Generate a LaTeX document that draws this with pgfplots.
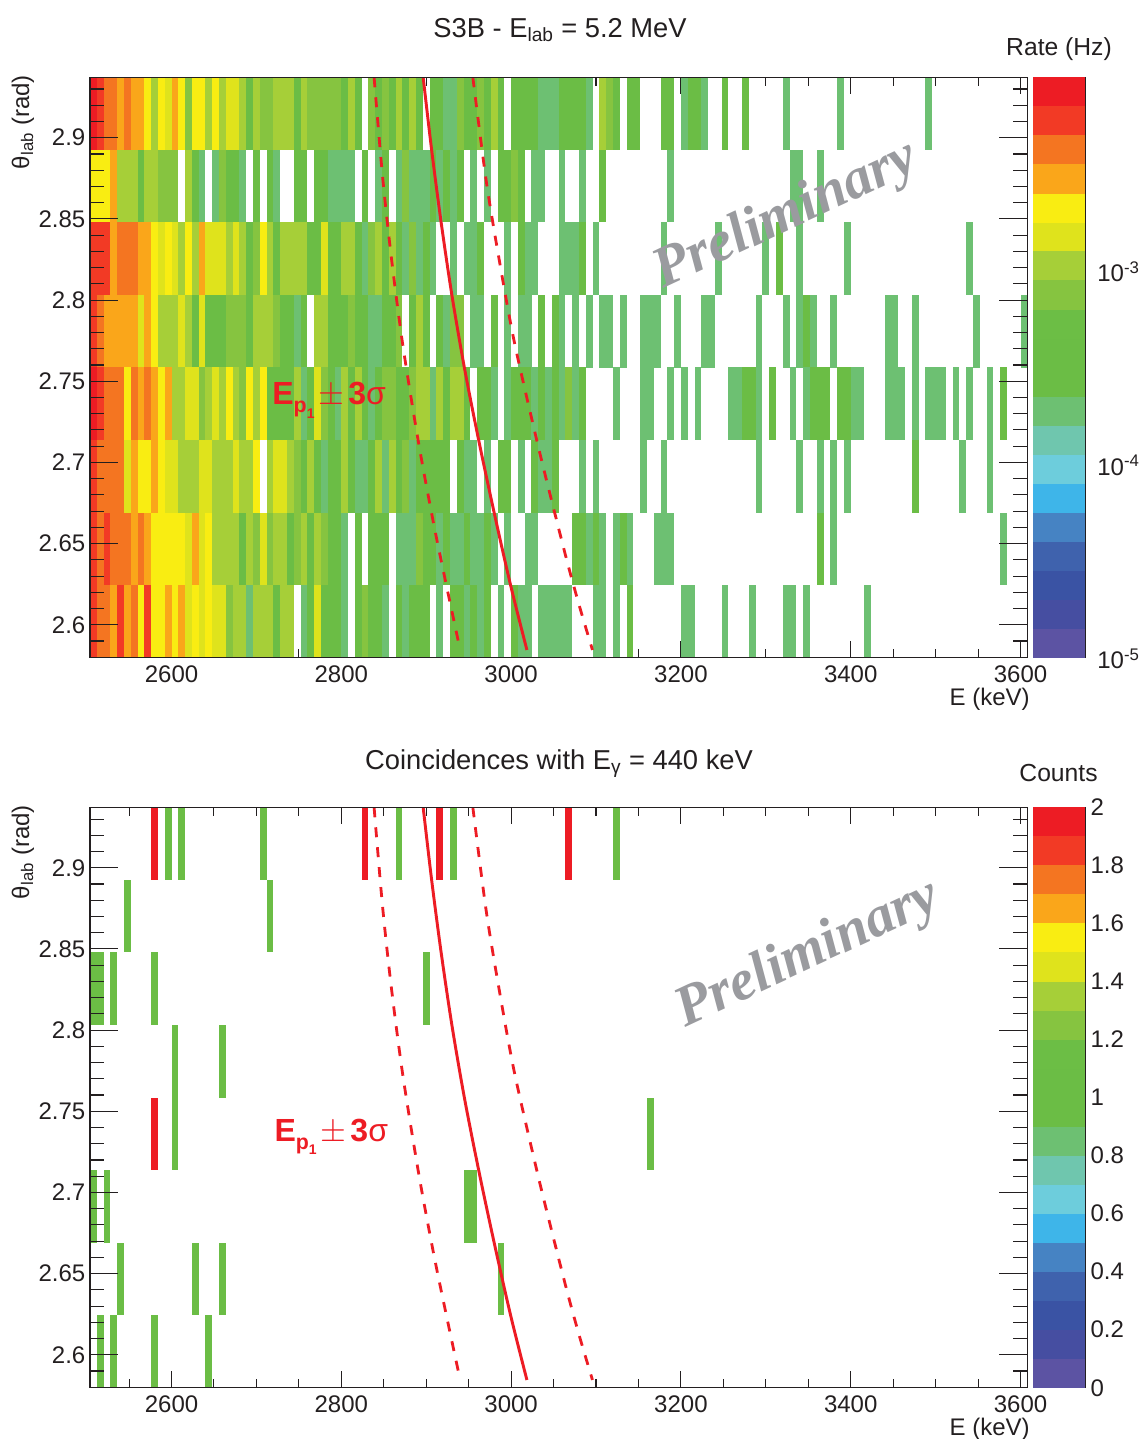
\documentclass[border=0pt]{standalone}
\usepackage{fontspec}
\setmainfont{Liberation Sans}
\newfontfamily\serifbi{Liberation Serif}[BoldItalicFont=* Bold Italic]
\usepackage{pgfplots}
\pgfplotsset{compat=1.18}
\definecolor{rootred}{HTML}{ED1C24}
\definecolor{inkk}{HTML}{231F20}
\definecolor{prelim}{HTML}{9A9B9F}
\pgfdeclareplotmark{cellT}{\pgfpathrectangle{\pgfpoint{-2.55pt}{-27.25pt}}{\pgfpoint{5.1pt}{54.5pt}}\pgfusepathqfill}
\pgfdeclareplotmark{cellB}{\pgfpathrectangle{\pgfpoint{-19.6pt}{-10.92pt}}{\pgfpoint{39.2pt}{21.84pt}}\pgfusepathqfill}
\pgfplotsset{
 colormap={rootpal}{rgb255=(92,83,163) rgb255=(70,78,161) rgb255=(58,83,164) rgb255=(63,98,173) rgb255=(70,131,195)
  rgb255=(62,181,233) rgb255=(109,205,220) rgb255=(111,198,174) rgb255=(109,192,114) rgb255=(107,189,69)
  rgb255=(107,189,69) rgb255=(108,190,69) rgb255=(134,196,64) rgb255=(166,207,56) rgb255=(223,227,28)
  rgb255=(249,237,18) rgb255=(250,166,26) rgb255=(244,117,33) rgb255=(242,58,37) rgb255=(237,28,36)},
 colormap name=rootpal,
 rootaxis/.style={scale only axis,width=703pt,height=435.3pt,xmin=2504,xmax=3608,ymin=2.5797,ymax=2.9372,
  tick align=inside,axis on top,axis line style={inkk,line width=1pt},
  tick style={inkk,line width=0.8pt},
  ticklabel style={font=\fontsize{18}{20}\selectfont,text=inkk}},
 xpart/.style={xtick={2600,2800,3000,3200,3400,3600},xticklabels={2600,2800,3000,3200,3400,3600},
  minor xtick={2550,2650,2700,2750,2850,2900,2950,3050,3100,3150,3250,3300,3350,3450,3500,3550},
  major tick length=12.75pt,minor tick length=6.2pt,ytick=\empty,
  xticklabel style={yshift=-2.8pt}},
 ypart/.style={ytick={2.6,2.65,2.7,2.75,2.8,2.85,2.9},yticklabels={2.6,2.65,2.7,2.75,2.8,2.85,2.9},
  minor ytick={2.58,2.59,2.61,2.62,2.63,2.64,2.66,2.67,2.68,2.69,2.71,2.72,2.73,2.74,2.76,2.77,2.78,2.79,2.81,2.82,2.83,2.84,2.86,2.87,2.88,2.89,2.91,2.92,2.93},
  major tick length=21pt,minor tick length=10.5pt,xtick=\empty},
 heat/.style={scatter,only marks,mark=cellT,scatter src=explicit},
 cbar/.style={scale only axis,width=39.2pt,height=435.3pt,xmin=0,xmax=1,
  axis x line=none,axis y line*=right,axis line style={inkk,line width=0.8pt,-},
  tick align=inside,tick style={inkk,line width=0.8pt},axis on top,
  major tick length=21pt,minor tick length=10.5pt,
  ticklabel style={font=\fontsize{18}{20}\selectfont,text=inkk}},
 cb/.style={scatter,only marks,mark=cellB,scatter src=explicit},
 solidc/.style={rootred,line width=2.2pt,smooth,no markers},
 dashc/.style={rootred,line width=2.1pt,smooth,no markers,dash pattern=on 7.5pt off 7.5pt},
}
\newcommand{\curves}{%
 \addplot[solidc] coordinates {(2896.4,2.9372)(2906.4,2.8924)(2917.6,2.8477)(2930.2,2.8032)(2945,2.7582)(2962,2.7132)(2980,2.6691)(2999.5,2.6241)(3018.6,2.5845)};
 \addplot[dashc] coordinates {(2838.6,2.9372)(2848.6,2.8760)(2859,2.8259)(2872.4,2.7724)(2891,2.7120)(2908.8,2.6621)(2924.4,2.6227)(2940,2.5845)};
 \addplot[dashc] coordinates {(2954.9,2.9372)(2970.5,2.8740)(2986,2.8247)(3004,2.7736)(3031.5,2.7108)(3049,2.6738)(3066,2.6389)(3080,2.6123)(3095.8,2.5845)};
}
\newcommand{\eplabel}{{\color{rootred}\fontsize{24}{26}\selectfont\textbf{E}\raisebox{-6pt}{\fontsize{16}{16}\selectfont\textbf{p}\raisebox{-4pt}{\fontsize{10.5}{11}\selectfont\textbf{1}}}\hspace{3pt}$\pm$\hspace{3pt}\textbf{3}σ}}
\newcommand{\prelimtext}{\serifbi\bfseries\itshape\fontsize{43}{45}\selectfont Preliminary}
\begin{document}
\begin{tikzpicture}
\path[use as bounding box] (0,0) rectangle (857.25pt,-1079.25pt);
% ---------- top panel
\begin{axis}[rootaxis,xpart,at={(67.5pt,-493.3pt)},anchor=south west,point meta min=0,point meta max=19]
\addplot[heat] table[row sep=\\,header=false,x expr=2508+8*\thisrowno{0},y expr=2.9149,meta index=1] {
0 19\\1 18\\2 17\\3 17\\4 16\\5 17\\6 16\\7 16\\8 15\\9 13\\10 15\\11 14\\12 16\\13 15\\14 12\\15 15\\16 15\\17 13\\18 15\\19 13\\20 14\\21 14\\22 13\\23 10\\24 13\\25 12\\26 12\\27 13\\28 13\\29 13\\30 10\\31 13\\32 12\\33 12\\34 12\\35 12\\36 12\\37 10\\38 13\\39 10\\41 12\\42 10\\43 12\\44 10\\45 13\\46 10\\47 13\\48 10\\50 10\\51 10\\52 8\\53 8\\54 12\\55 10\\56 10\\57 12\\58 10\\59 13\\60 10\\62 10\\63 10\\64 10\\65 10\\66 8\\67 8\\68 8\\69 10\\70 10\\71 10\\72 10\\73 8\\75 13\\76 12\\77 10\\79 10\\80 10\\84 10\\85 10\\87 8\\88 10\\89 10\\90 8\\93 10\\96 10\\102 8\\110 8\\123 8\\
};
\addplot[heat] table[row sep=\\,header=false,x expr=2508+8*\thisrowno{0},y expr=2.8702,meta index=1] {
0 15\\1 15\\2 15\\3 16\\4 13\\5 13\\6 13\\7 10\\8 13\\9 13\\10 12\\11 12\\12 12\\14 13\\15 10\\16 8\\18 8\\19 12\\20 10\\21 10\\22 8\\24 10\\26 10\\27 8\\30 10\\31 10\\33 10\\34 10\\35 8\\36 8\\37 8\\38 8\\40 10\\42 8\\43 10\\45 8\\46 12\\47 8\\48 8\\49 8\\50 10\\51 8\\52 10\\53 8\\54 10\\56 8\\58 8\\60 10\\61 10\\62 12\\63 10\\65 8\\66 8\\69 8\\72 8\\75 10\\85 8\\103 8\\104 8\\107 8\\
};
\addplot[heat] table[row sep=\\,header=false,x expr=2508+8*\thisrowno{0},y expr=2.8255,meta index=1] {
0 18\\1 18\\2 18\\3 16\\4 17\\5 17\\6 17\\7 16\\8 16\\9 15\\10 14\\11 15\\12 14\\13 13\\14 15\\15 13\\16 16\\17 14\\18 14\\19 14\\20 13\\21 14\\22 13\\23 10\\24 12\\25 15\\26 13\\27 10\\28 13\\29 13\\30 13\\31 13\\32 10\\33 10\\34 14\\35 10\\36 10\\37 13\\38 13\\39 10\\40 8\\41 12\\42 13\\43 10\\44 13\\45 10\\46 8\\47 12\\48 8\\49 10\\50 8\\53 8\\55 8\\56 8\\57 10\\61 8\\63 10\\64 8\\65 8\\69 8\\70 8\\71 8\\72 10\\74 8\\84 8\\92 8\\99 8\\101 10\\104 8\\111 8\\129 8\\
};
\addplot[heat] table[row sep=\\,header=false,x expr=2508+8*\thisrowno{0},y expr=2.7808,meta index=1] {
0 18\\1 17\\2 16\\3 16\\4 16\\5 16\\6 16\\7 14\\8 16\\9 15\\10 13\\11 13\\12 13\\13 14\\14 13\\15 10\\16 14\\17 10\\18 10\\19 10\\20 12\\21 12\\22 12\\23 10\\24 13\\25 13\\26 13\\27 12\\28 10\\29 10\\30 8\\31 10\\33 13\\34 13\\35 10\\36 10\\37 10\\38 12\\39 10\\40 10\\41 8\\42 8\\43 10\\44 10\\45 12\\47 10\\48 13\\49 10\\51 10\\52 8\\53 12\\54 12\\56 8\\57 8\\59 10\\61 8\\63 8\\64 8\\66 10\\68 10\\69 8\\71 8\\73 8\\75 8\\76 8\\78 8\\81 8\\82 8\\83 8\\86 8\\90 8\\91 8\\98 8\\102 8\\104 8\\105 10\\106 8\\109 8\\117 8\\118 8\\121 8\\130 8\\137 8\\
};
\addplot[heat] table[row sep=\\,header=false,x expr=2508+8*\thisrowno{0},y expr=2.7361,meta index=1] {
0 19\\1 18\\2 17\\3 17\\4 17\\5 15\\6 17\\7 16\\8 17\\9 16\\10 15\\11 16\\12 13\\13 13\\14 14\\15 14\\16 12\\17 13\\18 14\\19 13\\20 15\\21 13\\22 12\\23 15\\24 13\\25 15\\26 10\\27 10\\28 10\\29 10\\30 13\\31 8\\32 10\\33 14\\34 12\\35 10\\36 8\\37 13\\38 10\\39 13\\40 10\\41 8\\42 10\\43 12\\44 12\\45 10\\46 10\\47 12\\48 13\\49 13\\50 8\\51 13\\52 10\\53 13\\54 13\\55 10\\57 10\\58 10\\59 8\\61 8\\62 10\\63 10\\64 10\\65 8\\66 10\\67 8\\68 10\\69 8\\70 12\\71 8\\72 10\\77 8\\81 8\\82 8\\85 8\\87 8\\89 8\\94 8\\95 8\\96 10\\97 10\\98 8\\100 10\\103 8\\105 8\\106 10\\107 10\\108 10\\110 10\\111 10\\112 8\\113 8\\117 8\\118 8\\119 8\\121 8\\123 8\\124 8\\125 8\\127 8\\129 8\\132 8\\134 10\\
};
\addplot[heat] table[row sep=\\,header=false,x expr=2508+8*\thisrowno{0},y expr=2.6914,meta index=1] {
0 18\\1 17\\2 17\\3 17\\4 17\\5 14\\6 16\\7 15\\8 15\\9 16\\10 15\\11 14\\12 14\\13 13\\14 13\\15 13\\16 14\\17 14\\18 13\\19 13\\20 13\\21 14\\22 13\\23 13\\24 15\\26 13\\27 14\\28 14\\29 13\\30 12\\31 10\\32 13\\33 10\\34 8\\35 10\\36 10\\37 13\\38 10\\39 8\\40 8\\41 10\\42 13\\43 8\\44 13\\45 10\\46 12\\47 8\\48 10\\49 10\\50 10\\51 10\\52 10\\54 10\\55 8\\56 8\\58 8\\60 10\\61 10\\63 8\\65 10\\66 8\\67 8\\68 10\\72 8\\74 8\\81 8\\84 8\\98 8\\104 8\\107 8\\109 8\\111 8\\121 10\\128 8\\132 8\\
};
\addplot[heat] table[row sep=\\,header=false,x expr=2508+8*\thisrowno{0},y expr=2.6467,meta index=1] {
0 18\\1 17\\2 18\\3 17\\4 17\\5 17\\6 16\\7 17\\8 16\\9 15\\10 15\\11 15\\12 15\\13 15\\14 14\\15 16\\16 14\\17 15\\18 13\\19 13\\20 13\\21 13\\22 10\\23 13\\24 12\\25 14\\26 12\\27 13\\28 13\\29 10\\30 12\\31 13\\32 10\\33 13\\34 12\\35 10\\36 10\\37 8\\39 10\\41 10\\42 10\\43 10\\45 8\\46 8\\47 8\\48 12\\49 10\\50 10\\51 8\\52 10\\53 8\\54 8\\55 10\\56 8\\57 8\\58 10\\59 8\\61 8\\64 8\\65 8\\71 10\\72 10\\73 8\\74 10\\75 8\\77 8\\78 10\\79 8\\83 8\\84 8\\85 8\\107 10\\109 8\\134 8\\
};
\addplot[heat] table[row sep=\\,header=false,x expr=2508+8*\thisrowno{0},y expr=2.6020,meta index=1] {
0 18\\1 17\\2 17\\3 16\\4 18\\5 16\\6 17\\7 15\\8 18\\9 15\\10 15\\11 16\\12 15\\13 16\\14 14\\15 15\\16 14\\17 15\\18 14\\19 14\\20 12\\21 13\\22 13\\23 8\\24 13\\25 13\\26 13\\27 10\\28 13\\29 13\\31 8\\32 10\\33 14\\34 10\\35 10\\36 10\\37 8\\39 10\\40 12\\41 10\\42 10\\43 8\\45 10\\46 8\\47 10\\48 10\\49 10\\51 8\\53 10\\54 10\\55 8\\56 10\\57 8\\58 10\\60 8\\62 10\\63 8\\64 8\\66 8\\67 8\\68 8\\69 8\\70 8\\74 8\\75 8\\77 8\\79 10\\87 8\\88 8\\93 8\\97 8\\102 8\\103 8\\105 8\\114 8\\
};
\end{axis}
\begin{axis}[rootaxis,ypart,at={(67.5pt,-493.3pt)},anchor=south west]
\curves
\node[anchor=base west,inner sep=0pt] at (axis cs:2718.5,2.7354) {\eplabel};
\node[rotate=25,text=prelim,inner sep=0pt] at (axis cs:3324,2.8515) {\prelimtext};
\end{axis}
\begin{axis}[cbar,at={(774.75pt,-493.3pt)},anchor=south west,ymin=-5,ymax=-2.002,point meta min=0,point meta max=19,
 ytick={-5,-4,-3},yticklabels={10\textsuperscript{-5},10\textsuperscript{-4},10\textsuperscript{-3}},
 yticklabel style={anchor=west,xshift=5.5pt,yshift=-1pt},
 minor ytick={-4.699,-4.523,-4.398,-4.301,-4.222,-4.155,-4.097,-4.046,-3.699,-3.523,-3.398,-3.301,-3.222,-3.155,-3.097,-3.046,-2.699,-2.523,-2.398,-2.301,-2.222,-2.155,-2.097,-2.046}]
\addplot[cb] table[row sep=\\,header=false,x index=0,y index=1,meta index=2] {
0.5 -4.925 0\\0.5 -4.775 1\\0.5 -4.625 2\\0.5 -4.475 3\\0.5 -4.325 4\\0.5 -4.176 5\\0.5 -4.026 6\\0.5 -3.876 7\\0.5 -3.726 8\\0.5 -3.576 9\\0.5 -3.426 10\\0.5 -3.276 11\\0.5 -3.126 12\\0.5 -2.976 13\\0.5 -2.826 14\\0.5 -2.677 15\\0.5 -2.527 16\\0.5 -2.377 17\\0.5 -2.227 18\\0.5 -2.077 19\\
};
\end{axis}
% ---------- bottom panel
\begin{axis}[rootaxis,xpart,at={(67.5pt,-1040.8pt)},anchor=south west,point meta min=0,point meta max=2]
\addplot[heat] table[row sep=\\,header=false,x expr=2508+8*\thisrowno{0},y expr=2.9149,meta index=1] {
9 2\\11 1\\13 1\\25 1\\40 2\\45 1\\51 2\\53 1\\70 2\\77 1\\
};
\addplot[heat] table[row sep=\\,header=false,x expr=2508+8*\thisrowno{0},y expr=2.8702,meta index=1] {
5 1\\26 1\\
};
\addplot[heat] table[row sep=\\,header=false,x expr=2508+8*\thisrowno{0},y expr=2.8255,meta index=1] {
0 1\\1 1\\3 1\\9 1\\49 1\\
};
\addplot[heat] table[row sep=\\,header=false,x expr=2508+8*\thisrowno{0},y expr=2.7808,meta index=1] {
12 1\\19 1\\
};
\addplot[heat] table[row sep=\\,header=false,x expr=2508+8*\thisrowno{0},y expr=2.7361,meta index=1] {
9 2\\12 1\\82 1\\
};
\addplot[heat] table[row sep=\\,header=false,x expr=2508+8*\thisrowno{0},y expr=2.6914,meta index=1] {
0 1\\2 1\\55 1\\56 1\\
};
\addplot[heat] table[row sep=\\,header=false,x expr=2508+8*\thisrowno{0},y expr=2.6467,meta index=1] {
4 1\\15 1\\19 1\\60 1\\
};
\addplot[heat] table[row sep=\\,header=false,x expr=2508+8*\thisrowno{0},y expr=2.6020,meta index=1] {
1 1\\3 1\\9 1\\17 1\\
};
\end{axis}
\begin{axis}[rootaxis,ypart,at={(67.5pt,-1040.8pt)},anchor=south west]
\curves
\node[anchor=base west,inner sep=0pt] at (axis cs:2721,2.7315) {\eplabel};
\node[rotate=25,text=prelim,inner sep=0pt] at (axis cs:3350,2.8463) {\prelimtext};
\end{axis}
\begin{axis}[cbar,at={(774.75pt,-1040.8pt)},anchor=south west,ymin=0,ymax=2,point meta min=0,point meta max=19,
 ytick={0,0.2,0.4,0.6,0.8,1,1.2,1.4,1.6,1.8,2},yticklabels={0,0.2,0.4,0.6,0.8,1,1.2,1.4,1.6,1.8,2},
 yticklabel style={anchor=west,xshift=0.5pt},
 minor ytick={0.1,0.3,0.5,0.7,0.9,1.1,1.3,1.5,1.7,1.9}]
\addplot[cb] table[row sep=\\,header=false,x index=0,y index=1,meta index=2] {
0.5 0.05 0\\0.5 0.15 1\\0.5 0.25 2\\0.5 0.35 3\\0.5 0.45 4\\0.5 0.55 5\\0.5 0.65 6\\0.5 0.75 7\\0.5 0.85 8\\0.5 0.95 9\\0.5 1.05 10\\0.5 1.15 11\\0.5 1.25 12\\0.5 1.35 13\\0.5 1.45 14\\0.5 1.55 15\\0.5 1.65 16\\0.5 1.75 17\\0.5 1.85 18\\0.5 1.95 19\\
};
\end{axis}
% ---------- texts
\node[anchor=base,inner sep=0pt,text=inkk,font=\fontsize{20.5}{22}\selectfont] at (420pt,-27.75pt) {S3B - E\textsubscript{lab} = 5.2 MeV};
\node[anchor=base,inner sep=0pt,text=inkk,font=\fontsize{18.5}{20}\selectfont] at (794.25pt,-41.25pt) {Rate (Hz)};
\node[anchor=base east,inner sep=0pt,text=inkk,font=\fontsize{18}{20}\selectfont] at (772.5pt,-528.75pt) {E (keV)};
\node[anchor=base east,rotate=90,inner sep=0pt,text=inkk,font=\fontsize{18}{20}\selectfont] at (21.75pt,-56.25pt) {θ\textsubscript{lab} (rad)};
\node[anchor=base,inner sep=0pt,text=inkk,font=\fontsize{20.5}{22}\selectfont] at (419.25pt,-576.75pt) {Coincidences with E\textsubscript{γ} = 440 keV};
\node[anchor=base,inner sep=0pt,text=inkk,font=\fontsize{18.5}{20}\selectfont] at (793.9pt,-585.75pt) {Counts};
\node[anchor=base east,inner sep=0pt,text=inkk,font=\fontsize{18}{20}\selectfont] at (772.5pt,-1076.25pt) {E (keV)};
\node[anchor=base east,rotate=90,inner sep=0pt,text=inkk,font=\fontsize{18}{20}\selectfont] at (21.75pt,-603.75pt) {θ\textsubscript{lab} (rad)};
\end{tikzpicture}
\end{document}
